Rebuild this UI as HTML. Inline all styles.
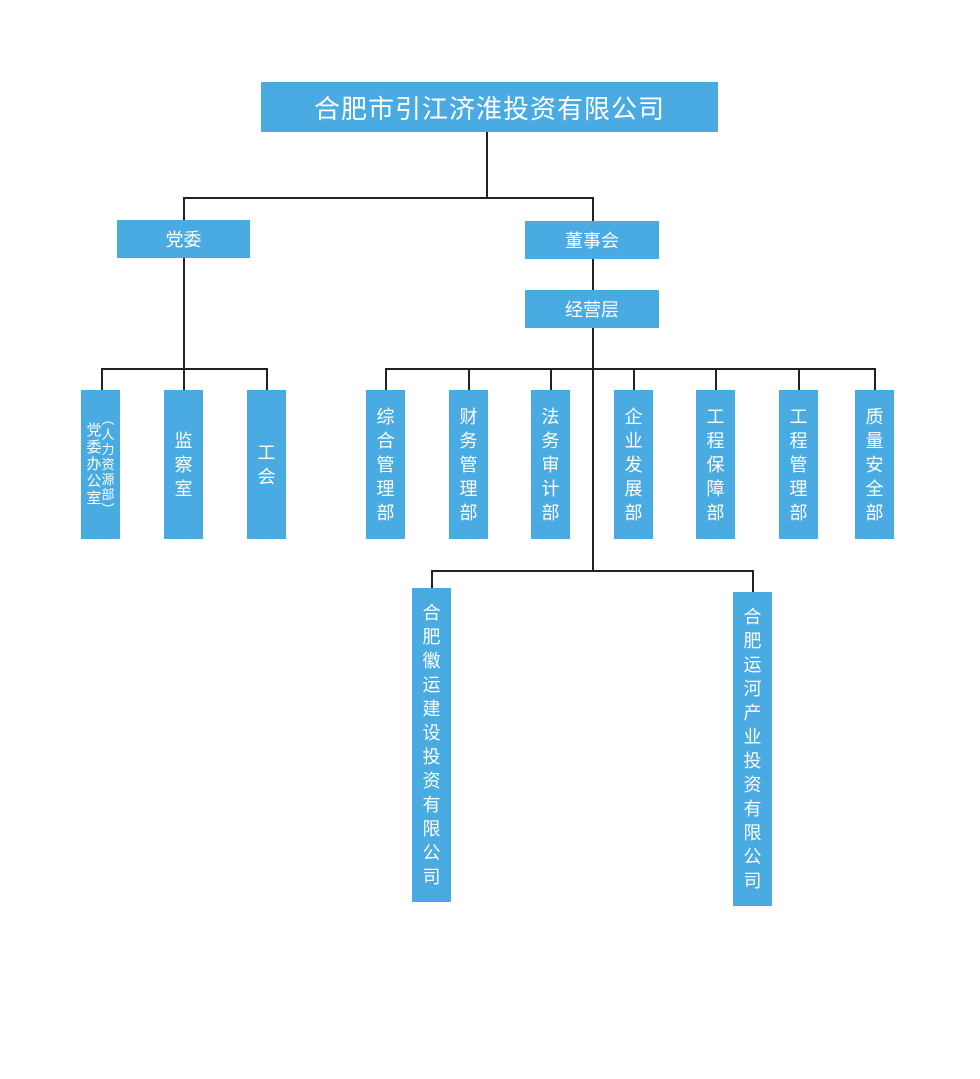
<!DOCTYPE html>
<html><head><meta charset="utf-8"><style>
html,body{margin:0;padding:0;background:#fff;}
body{width:980px;height:1079px;position:relative;overflow:hidden;font-family:"Liberation Sans","Noto Sans CJK SC",sans-serif;}
.b{position:absolute;background:#4aaae2;color:#fff;display:flex;align-items:center;justify-content:center;box-sizing:border-box;}
.v{flex-direction:column;font-size:18px;line-height:24px;text-align:center;}
.l{position:absolute;background:#222;}
</style></head><body>
<div class="b" style="left:261px;top:82px;width:457px;height:50px;font-size:26px;letter-spacing:1px;">合肥市引江济淮投资有限公司</div>
<div class="l" style="left:486px;top:132px;width:1.5px;height:67px;"></div>
<div class="l" style="left:183px;top:197px;width:410px;height:1.5px;"></div>
<div class="l" style="left:183px;top:197px;width:1.5px;height:172px;"></div>
<div class="l" style="left:592px;top:197px;width:1.5px;height:374px;"></div>
<div class="b" style="left:117px;top:220px;width:133px;height:38px;font-size:18px;">党委</div>
<div class="b" style="left:525px;top:221px;width:134px;height:38px;font-size:18px;">董事会</div>
<div class="b" style="left:525px;top:290px;width:134px;height:38px;font-size:18px;">经营层</div>

<div class="l" style="left:101px;top:368px;width:167px;height:1.5px;"></div>
<div class="l" style="left:101px;top:368px;width:1.5px;height:22px;"></div>
<div class="l" style="left:183px;top:368px;width:1.5px;height:22px;"></div>
<div class="l" style="left:266px;top:368px;width:1.5px;height:22px;"></div>
<div class="b" style="left:81px;top:390px;width:39px;height:149px;">
 <div style="display:flex;flex-direction:row;align-items:flex-start;">
  <div style="display:flex;flex-direction:column;font-size:15px;line-height:17px;margin-top:10px;">党<br>委<br>办<br>公<br>室</div>
  <div style="display:flex;flex-direction:column;font-size:13px;line-height:15px;">︵<br>人<br>力<br>资<br>源<br>部<br>︶</div>
 </div>
</div>
<div class="b v" style="left:164px;top:390px;width:39px;height:149px;"><div>监<br>察<br>室</div></div>
<div class="b v" style="left:247px;top:390px;width:39px;height:149px;"><div>工<br>会</div></div>

<div class="l" style="left:385px;top:368px;width:491px;height:1.5px;"></div>
<div class="l" style="left:385px;top:368px;width:1.5px;height:22px;"></div>
<div class="l" style="left:468px;top:368px;width:1.5px;height:22px;"></div>
<div class="l" style="left:550px;top:368px;width:1.5px;height:22px;"></div>
<div class="l" style="left:633px;top:368px;width:1.5px;height:22px;"></div>
<div class="l" style="left:715px;top:368px;width:1.5px;height:22px;"></div>
<div class="l" style="left:798px;top:368px;width:1.5px;height:22px;"></div>
<div class="l" style="left:874px;top:368px;width:1.5px;height:22px;"></div>
<div class="b v" style="left:366px;top:390px;width:39px;height:149px;"><div>综<br>合<br>管<br>理<br>部</div></div>
<div class="b v" style="left:449px;top:390px;width:39px;height:149px;"><div>财<br>务<br>管<br>理<br>部</div></div>
<div class="b v" style="left:531px;top:390px;width:39px;height:149px;"><div>法<br>务<br>审<br>计<br>部</div></div>
<div class="b v" style="left:614px;top:390px;width:39px;height:149px;"><div>企<br>业<br>发<br>展<br>部</div></div>
<div class="b v" style="left:696px;top:390px;width:39px;height:149px;"><div>工<br>程<br>保<br>障<br>部</div></div>
<div class="b v" style="left:779px;top:390px;width:39px;height:149px;"><div>工<br>程<br>管<br>理<br>部</div></div>
<div class="b v" style="left:855px;top:390px;width:39px;height:149px;"><div>质<br>量<br>安<br>全<br>部</div></div>

<div class="l" style="left:431px;top:570px;width:322px;height:1.5px;"></div>
<div class="l" style="left:431px;top:570px;width:1.5px;height:18px;"></div>
<div class="l" style="left:752px;top:570px;width:1.5px;height:22px;"></div>
<div class="b v" style="left:412px;top:588px;width:39px;height:314px;"><div>合<br>肥<br>徽<br>运<br>建<br>设<br>投<br>资<br>有<br>限<br>公<br>司</div></div>
<div class="b v" style="left:733px;top:592px;width:39px;height:314px;"><div>合<br>肥<br>运<br>河<br>产<br>业<br>投<br>资<br>有<br>限<br>公<br>司</div></div>
</body></html>
